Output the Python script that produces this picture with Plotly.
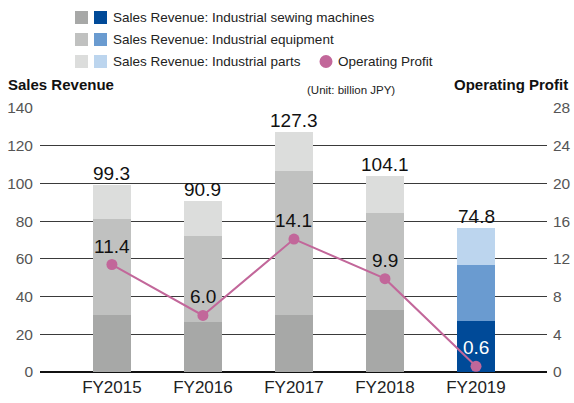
import plotly.graph_objects as go

categories = ["FY2015", "FY2016", "FY2017", "FY2018", "FY2019"]
sewing = [30.2, 26.7, 30.2, 32.9, 27.0]
equipment = [50.9, 45.4, 76.5, 51.2, 29.7]
parts = [18.2, 18.8, 20.6, 20.0, 19.6]
totals = [99.3, 90.9, 127.3, 104.1, 74.8]
profit = [11.4, 6.0, 14.1, 9.9, 0.6]

gray_cols = ["#a7a8a7", "#c0c1c0", "#dcdddc"]
blue_cols = ["#004a98", "#6a9bd0", "#bcd5ee"]
line_col = "#c2679a"

def seg_colors(k):
    return [gray_cols[k]] * 4 + [blue_cols[k]]

W, H = 574, 403
ML, MR, MT, MB = 40, 27, 108, 31
PW, PH = W - ML - MR, H - MT - MB

def px(x):
    return (x - ML) / PW

def py(y):
    return (H - MB - y) / PH

FONT = "Liberation Sans, Arial, sans-serif"

fig = go.Figure()
for k, vals in enumerate([sewing, equipment, parts]):
    fig.add_trace(go.Bar(x=categories, y=vals, marker=dict(color=seg_colors(k), line=dict(width=0)),
                         width=0.42, showlegend=False, hoverinfo="skip"))

fig.add_trace(go.Scatter(x=categories, y=profit, yaxis="y2", mode="lines+markers",
                         line=dict(color=line_col, width=2),
                         marker=dict(color=line_col, size=11), showlegend=False))

annotations = []
for c, t, s in zip(categories, totals, [sum(v) for v in zip(sewing, equipment, parts)]):
    annotations.append(dict(x=c, y=s, xref="x", yref="y", text=f"{t:.1f}", showarrow=False,
                            yanchor="bottom", yshift=-1, font=dict(size=19, color="#111", family=FONT)))
for i, (c, p) in enumerate(zip(categories, profit)):
    annotations.append(dict(x=c, y=p, xref="x", yref="y2", text=f"{p:.1f}", showarrow=False,
                            yanchor="bottom", yshift=6,
                            font=dict(size=19, color="#ffffff" if i == 4 else "#111", family=FONT)))

shapes = []
rows = [(17.5, "Sales Revenue: Industrial sewing machines"),
        (39.5, "Sales Revenue: Industrial equipment"),
        (61.5, "Sales Revenue: Industrial parts")]
for k, (yc, label) in enumerate(rows):
    for x0, col in [(75, gray_cols[k]), (94, blue_cols[k])]:
        shapes.append(dict(type="rect", xref="paper", yref="paper", x0=px(x0), x1=px(x0 + 13),
                           y0=py(yc + 6.5), y1=py(yc - 6.5), fillcolor=col, line=dict(width=0)))
    annotations.append(dict(x=px(111), y=py(yc), xref="paper", yref="paper", text=label,
                            showarrow=False, xanchor="left", yanchor="middle",
                            font=dict(size=13.5, color="#222", family=FONT)))
shapes.append(dict(type="circle", xref="paper", yref="paper", x0=px(319.5), x1=px(332.5),
                   y0=py(68), y1=py(55), fillcolor=line_col, line=dict(width=0)))
annotations.append(dict(x=px(336), y=py(61.5), xref="paper", yref="paper", text="Operating Profit",
                        showarrow=False, xanchor="left", yanchor="middle",
                        font=dict(size=13.5, color="#222", family=FONT)))

annotations.append(dict(x=px(6), y=py(84), xref="paper", yref="paper", text="<b>Sales Revenue</b>",
                        showarrow=False, xanchor="left", yanchor="middle",
                        font=dict(size=15, color="#111", family=FONT)))
annotations.append(dict(x=px(570), y=py(84), xref="paper", yref="paper", text="<b>Operating Profit</b>",
                        showarrow=False, xanchor="right", yanchor="middle",
                        font=dict(size=15, color="#111", family=FONT)))
annotations.append(dict(x=px(397), y=py(90), xref="paper", yref="paper", text="(Unit: billion JPY)",
                        showarrow=False, xanchor="right", yanchor="middle",
                        font=dict(size=11.5, color="#222", family=FONT)))

fig.update_layout(
    width=W, height=H, margin=dict(l=ML, r=MR, t=MT, b=MB, autoexpand=False),
    barmode="stack", bargap=0,
    plot_bgcolor="white", paper_bgcolor="white",
    font=dict(family=FONT, color="#333"),
    xaxis=dict(range=[-0.79, 4.78], showgrid=False, ticks="", showline=False, zeroline=False,
               tickfont=dict(size=17, color="#222"), ticklabelstandoff=3, automargin=False),
    yaxis=dict(range=[0, 140], dtick=20, showgrid=True, gridcolor="#3a3a3a", gridwidth=1,
               zeroline=True, zerolinecolor="#111", zerolinewidth=1.5,
               tickfont=dict(size=15.5, color="#555"), ticklabelstandoff=6, automargin=False),
    yaxis2=dict(range=[0, 28], dtick=4, overlaying="y", side="right", showgrid=False,
                zeroline=False, tickfont=dict(size=15.5, color="#555"), ticklabelstandoff=5,
                automargin=False),
    shapes=shapes, annotations=annotations,
)
fig.write_html("out.html", config={"displayModeBar": False, "staticPlot": True})

with open("out.html", "r", encoding="utf-8") as f:
    html = f.read()
html = html.replace("<head>", "<head><style>html,body{margin:0;padding:0;overflow:hidden;}</style>", 1)
with open("out.html", "w", encoding="utf-8") as f:
    f.write(html)
